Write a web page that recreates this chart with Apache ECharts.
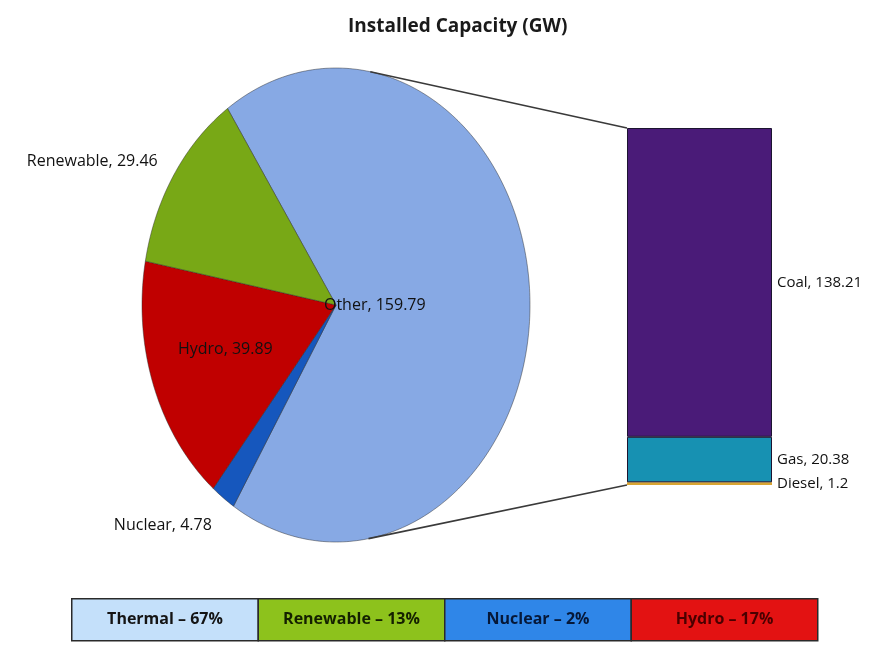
<!DOCTYPE html>
<html>
<head>
<meta charset="utf-8">
<script src="https://cdn.jsdelivr.net/npm/echarts@6/dist/echarts.min.js"></script>
<style>
  html, body { margin: 0; padding: 0; background: #fff; }
  #chart { width: 884px; height: 649px; }
</style>
</head>
<body>
<div id="chart"></div>
<script>
// pie slices, clockwise from the "Other" slice
const pieNames = ["Other", "Nuclear", "Hydro", "Renewable"];
const pieValues = [159.79, 4.78, 39.89, 29.46];
const pieColors = ["#87a9e4", "#1657bd", "#c00000", "#78a816"];

// breakdown of "Other", stacked bottom-up
const barNames = ["Diesel", "Gas", "Coal"];
const barValues = [1.2, 20.38, 138.21];
const barColors = ["#d9a532", "#1791b2", "#4a1b78"];

// legend table under the chart
const legendNames = ["Thermal", "Renewable", "Nuclear", "Hydro"];
const legendShares = [67, 13, 2, 17];
const legendColors = ["#c4e0fa", "#8dc21c", "#2f86e8", "#e31212"];
const legendTextColors = ["#141414", "#142000", "#061838", "#4a0000"];

const FONT = "'Open Sans', sans-serif";
const pie = { cx: 336, cy: 305, rx: 194, ry: 237, start: 124 };
const barBox = { left: 627, top: 128, width: 145, height: 357 };

let chartDom = document.getElementById("chart");
let myChart = echarts.init(chartDom);

function ellipsePoint(deg, k) {
    let a = deg * Math.PI / 180;
    return [pie.cx + pie.rx * k * Math.cos(a), pie.cy - pie.ry * k * Math.sin(a)];
}

function renderSlice(params, api) {
    let i = params.dataIndex;
    let total = pieValues.reduce((s, v) => s + v, 0);
    let before = pieValues.slice(0, i).reduce((s, v) => s + v, 0);
    let a0 = pie.start - before / total * 360;
    let span = api.value(0) / total * 360;
    let a1 = a0 - span;

    let points = [[pie.cx, pie.cy]];
    let steps = Math.max(2, Math.ceil(span));
    for (let s = 0; s <= steps; s++) {
        points.push(ellipsePoint(a0 - span * s / steps, 1));
    }

    // small slices get their label outside, the rest inside
    let mid = (a0 + a1) / 2;
    let share = api.value(0) / total;
    let inside = share > 0.15;
    let pos = inside ? ellipsePoint(mid - 2, share > 0.5 ? 0.2 : 0.6) : ellipsePoint(mid, 1.1);
    let align = inside ? "center" : (Math.cos(mid * Math.PI / 180) < 0 ? "right" : "left");
    let vAlign = inside ? "middle" : (Math.sin(mid * Math.PI / 180) < 0 ? "top" : "middle");

    return {
        type: "group",
        children: [
            {
                type: "polygon",
                shape: { points: points },
                style: { fill: pieColors[i], stroke: "rgba(40,40,40,0.45)", lineWidth: 1 }
            },
            {
                type: "text",
                x: pos[0],
                y: pos[1],
                z2: 10,
                style: {
                    text: pieNames[i] + ", " + api.value(0),
                    font: "16px " + FONT,
                    fill: "#111",
                    align: align,
                    verticalAlign: vAlign
                }
            }
        ]
    };
}

let barTotal = barValues.reduce((s, v) => s + v, 0);

let legendCells = [];
let cellW = 746 / legendNames.length;
legendNames.forEach((name, i) => {
    legendCells.push({
        type: "rect",
        shape: { x: i * cellW, y: 0, width: cellW, height: 42 },
        style: { fill: legendColors[i], stroke: "#2a2a2a", lineWidth: 1.5 }
    });
    legendCells.push({
        type: "text",
        x: i * cellW + cellW / 2,
        y: 21,
        style: {
            text: name + " – " + legendShares[i] + "%",
            font: "bold 16px " + FONT,
            fill: legendTextColors[i],
            align: "center",
            verticalAlign: "middle"
        }
    });
});

let option = {
    backgroundColor: "#fff",
    animation: false,
    title: {
        text: "Installed Capacity (GW)",
        left: 343,
        top: 12,
        textStyle: { fontFamily: FONT, fontWeight: "bold", fontSize: 19, color: "#1a1a1a" }
    },
    grid: barBox,
    xAxis: { type: "category", data: ["Other"], show: false },
    yAxis: { type: "value", min: 0, max: barTotal, show: false },
    series: [
        {
            type: "custom",
            coordinateSystem: "none",
            renderItem: renderSlice,
            data: pieValues.map((v, i) => [v, i])
        }
    ].concat(barNames.map((name, i) => ({
        type: "bar",
        name: name,
        stack: "other",
        barWidth: "100%",
        data: [barValues[i]],
        itemStyle: {
            color: barColors[i],
            borderColor: i === 0 ? barColors[i] : "#1c1430",
            borderWidth: i === 0 ? 0 : 1
        },
        label: {
            show: true,
            position: "right",
            distance: 5,
            formatter: "{a}, {c}",
            fontFamily: FONT,
            fontSize: 15,
            color: "#111"
        }
    }))),
    graphic: [
        {
            type: "group",
            left: 71,
            top: 598,
            children: legendCells
        }
    ]
};

myChart.setOption(option);

// connector lines: tangents from the bar corners to the pie
function tangentPoint(px, py, upper) {
    let u = (px - pie.cx) / pie.rx;
    let v = (pie.cy - py) / pie.ry;
    let base = Math.atan2(v, u);
    let d = Math.acos(1 / Math.sqrt(u * u + v * v));
    let t = upper ? base + d : base - d;
    return [pie.cx + pie.rx * Math.cos(t), pie.cy - pie.ry * Math.sin(t)];
}

let topY = myChart.convertToPixel({ yAxisIndex: 0 }, barTotal);
let botY = myChart.convertToPixel({ yAxisIndex: 0 }, 0);
let tTop = tangentPoint(barBox.left, topY, true);
let tBot = tangentPoint(barBox.left, botY, false);

myChart.setOption({
    graphic: [
        {
            type: "group",
            left: 71,
            top: 598,
            children: legendCells
        },
        {
            type: "line",
            shape: { x1: tTop[0], y1: tTop[1], x2: barBox.left, y2: topY },
            style: { stroke: "#3a3a3a", lineWidth: 1.6 },
            z: 5
        },
        {
            type: "line",
            shape: { x1: tBot[0], y1: tBot[1], x2: barBox.left, y2: botY },
            style: { stroke: "#3a3a3a", lineWidth: 1.6 },
            z: 5
        }
    ]
});
</script>
</body>
</html>
